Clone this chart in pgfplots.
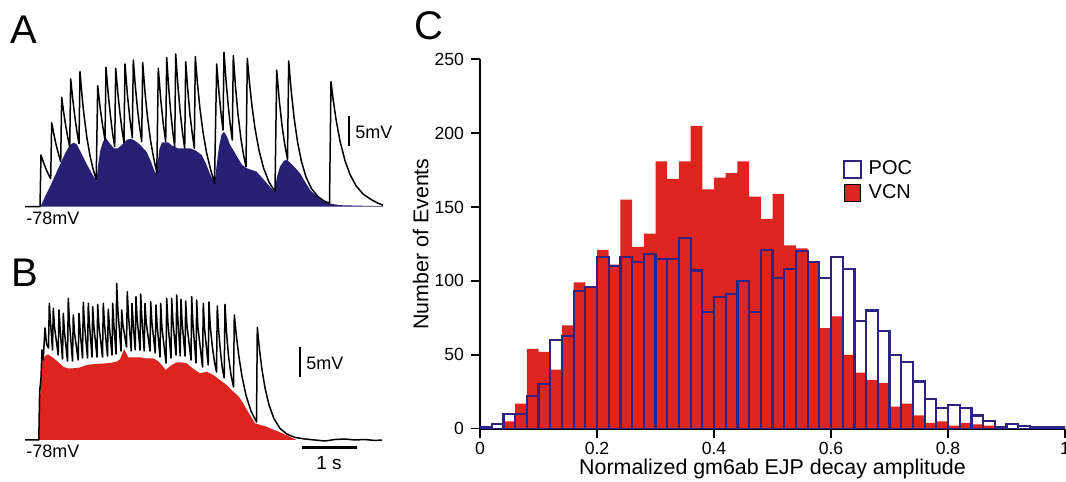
\documentclass[border=0pt]{standalone}
\usepackage{fontspec}
\setmainfont{Liberation Sans}
\usepackage{pgfplots}
\pgfplotsset{compat=1.18}

\definecolor{navyfill}{RGB}{40,30,115}
\definecolor{pocblue}{RGB}{45,35,130}
\definecolor{vcnred}{RGB}{222,36,30}

% traces are digitized in picture pixels: x = time, y = height above -78 mV (6 px = 1 mV, 55 px = 1 s)
\pgfplotsset{trace/.style={x=0.5pt, y=0.5pt, xmin=20, xmax=390, ymin=-5, ymax=165,
  hide axis, clip=false, anchor=south west}}

\begin{document}
\begin{tikzpicture}
\useasboundingbox (0,0) rectangle (533pt,241pt);

% ---------- A ----------
\begin{axis}[trace, at={(10pt,135.15pt)}]
\addplot[fill=navyfill, draw=none] coordinates {
(40.5,0) (45,10) (50,20) (55,31) (60,42) (65,53) (70,62) (74,64) (77,62) (82,52) (87,42)
(92,33) (96.5,25) (98,40) (100,55) (103,65) (106,68.4) (110,63) (114,58.4) (118,58.4)
(122,62) (127,67) (131,68) (135,66) (140,62) (146.7,54.7) (151,45) (155.5,33) (157.8,45)
(159.5,58) (162,64.4) (168,64.4) (172,61) (178,58.4) (184,58.4) (190,58.4) (196,56)
(201.7,51.7) (206,43) (210,33) (214.5,23.4) (216.5,40) (219,60) (221.5,72) (224,75)
(227,70) (230,62) (233.3,56.7) (237,50) (242,42) (246.7,38.4) (251,37) (256.7,35)
(262,29) (268,22) (274.5,15) (277,30) (280,40) (284,46) (287,47) (291,43) (296,38)
(300,33.4) (305,25) (310,17) (313.3,13.4) (320,8) (328.3,3.4) (340,1.5) (360,1)
(383,0.5) (383,0)} \closedcycle;
\addplot[black, line width=0.75pt, line join=round] coordinates {
(25,0) (40,0) (41,51.7) (43.4,44.4) (45.9,38) (48.3,32.6) (50.7,28)
(51.7,84) (54,71.9) (56.2,61.5) (58.5,52.7) (60.7,45)
(61.7,109.4) (63.7,94.1) (65.7,81) (67.7,69.7) (69.7,60)
(70.7,127.7) (72.8,107) (74.9,89.7) (76.9,75.2) (79,63)
(80,135) (82,111) (84,91.5) (87,68.4) (90,51) (93,38) (96.2,26.7)
(97.7,121) (100.1,99.2) (102.6,81.2) (105,66.7)
(106,139.4) (108.2,112.9) (110.4,91.4) (112.5,74) (114.7,60)
(115.7,138.4) (117.8,114) (119.9,94.1) (121.9,77.5) (124,64)
(125,142.7) (127.4,112.2) (129.9,87.6) (132.3,69)
(133.3,146.7) (135.4,119.7) (137.5,97.7) (139.6,79.7) (141.7,65)
(142.7,144) (145,114.6) (147.5,89.6) (150.5,66.5) (153.5,49.4) (156.8,34)
(158.3,138.4) (160.7,107.7) (163.2,83.5) (165.7,65)
(166.7,149) (168.7,118.7) (170.7,94.6) (172.7,75.4) (174.7,60)
(175.7,152.7) (178,120) (180.2,94.4) (182.5,74.2) (184.7,58.4)
(185.7,145) (187.9,115.6) (190,92) (192.2,73.4) (194.3,58.4)
(195.3,150) (197.5,122.8) (200,97.8) (203,74.5) (206.5,54.2) (210.5,37.7) (214.5,23.4)
(216.7,142.7) (218.8,116.3) (220.9,94.2) (223,76.7)
(224,154.4) (226.1,125.2) (228.2,101.5) (230.2,82.3) (232.3,66.7)
(233.3,151) (235.5,119.9) (238,92.4) (241,67.5) (243.5,52) (246,40)
(247.3,148.4) (249.5,123.8) (252,100.6) (255,78.5) (259,56.4) (263.5,38.9) (269,24.6) (275,15)
(276.7,136.7) (279.4,104.9) (282.1,80.5) (284.8,61.8) (287.5,47.4)
(288.7,145.7) (291,118) (294,89.6) (297.5,65) (301.5,45) (306,29.7) (311.5,18) (318,10) (324,5.7) (329.5,3.4)
(331,125) (333,108.4) (336,87.5) (340,65.7) (345,46) (350,32.2) (356,21) (363,12.7) (371,7.2) (378,3.5) (383,1.5)};
\end{axis}

% ---------- B ----------
\begin{axis}[trace, at={(10pt,18.5pt)}]
\addplot[fill=vcnred, draw=none] coordinates {
(39,0) (40,40) (41,65) (42.5,80) (45,84) (48,85.5) (52,83) (57,79) (63.3,73.3) (68,71.5)
(73.3,71.7) (80,72.5) (86.7,75) (95,76) (103.3,76.5) (110,77) (116.7,78.3) (120,80.7)
(122.5,87) (124.3,90.7) (126.5,86) (128.3,82.7) (134,82.5) (140,82.7) (145,81.7)
(153.3,81.7) (158,79) (161.7,75) (165.7,70) (168.5,72.5) (171.7,75) (176.7,77.7)
(181.7,77.5) (186.7,76.7) (191,73) (195,70) (200,66.7) (206.7,68.3) (213.3,65) (220,60)
(226.7,55) (233.3,48.3) (238.3,44) (243.3,36.7) (246.7,30.5) (250,25) (253,20) (255,16.7)
(260,15.2) (266.7,13.3) (273,10.5) (280,7.7) (287,4.5) (296.7,0)} \closedcycle;
\addplot[black, line width=0.75pt, line join=round] coordinates {
(25,0) (38.8,0) (39.6,48) (41,62) (42,90) (43.2,80) (45,112) (46.6,96) (48.5,92)
(49.3,136.7) (50.5,118) (52.5,90)
(53.3,131.7) (54.5,113) (58.2,85)
(59,130) (60.2,110.4) (62.5,81)
(63.3,126.7) (64.5,107.6) (67.5,79)
(68.3,141.7) (69.5,116.6) (72.5,79)
(73.3,125) (74.5,107) (78.2,80)
(79,126.7) (80.2,108.8) (82.5,82)
(83.3,137.7) (84.5,115.4) (87.5,82)
(88.3,136.7) (89.5,115.2) (92,83)
(92.7,133.3) (93.9,113.2) (97,83)
(97.7,135.7) (98.9,114.6) (102.5,83)
(103.3,136.7) (104.5,115.6) (107.5,84)
(108.3,130.7) (109.5,112.4) (112,85)
(112.7,136.7) (113.8,116.4) (116,86)
(116.7,156.7) (117.9,129.6) (121,89)
(121.7,130) (122.9,115.2) (126.5,93)
(127.3,148.3) (128.5,124.6) (131.2,89)
(132,136.7) (133.1,118) (135.2,90)
(136,143.3) (137.1,122) (140,90)
(140.7,146) (141.8,123.2) (144.2,89)
(145,136.7) (146.2,117.6) (150,89)
(150.7,138.3) (151.9,117.8) (155.2,87)
(156,135) (157.2,114.2) (160,83)
(160.7,136.7) (161.9,112.8) (166,77)
(166.7,141.7) (167.9,117.8) (171,82)
(171.7,141.7) (172.9,119) (176,85)
(176.7,145) (177.9,120.6) (180.2,84)
(181,140.7) (182.1,118) (185,84)
(185.7,139) (186.9,115.4) (191,80)
(191.7,143.3) (192.9,116.8) (196,77)
(196.7,140) (197.9,113.2) (202.5,73)
(203.3,136.7) (204.5,112) (208.2,75)
(209,138) (210.3,113) (212.5,92) (214.5,78) (216.5,68)
(217.3,134) (218.6,110) (220.5,88) (222.3,72) (224.2,62)
(225,135.7) (226.5,108) (228.5,84) (231,65) (233.5,53)
(234.3,125) (236.5,103) (239,82.7) (242,63.6) (246,44.8) (251,28.9) (256.5,18)
(257.3,112.7) (259.5,90.2) (262,70.4) (265,52.2) (269,35) (274,21.2) (280,11.6) (287,5.8)
(295,2.6) (305,1) (315,0) (325,-1) (335,0.5) (345,1) (355,0) (365,0.5) (375,-0.5) (382,0)};
\end{axis}

% ---------- C ----------
\begin{axis}[
  at={(240pt,26.65pt)}, anchor=south west,
  scale only axis, width=292.5pt, height=184.7pt,
  xmin=0, xmax=1, ymin=0, ymax=250,
  axis x line*=bottom, axis y line*=left,
  axis line style={line width=1pt},
  tick style={line width=0.8pt, black},
  tick align=outside, major tick length=4.5pt,
  xtick={0,0.2,0.4,0.6,0.8,1}, ytick={0,50,100,150,200,250},
  /pgf/number format/assume math mode=true,
  tick label style={font=\fontsize{8.8}{10}\selectfont},
  xticklabel style={inner sep=0.8pt, yshift=-1.2pt},
  xlabel={Normalized gm6ab EJP decay amplitude},
  ylabel={Number of Events},
  xlabel style={font=\fontsize{10.7}{12}\selectfont, inner sep=0.5pt, at={(axis description cs:0.5,-0.1090)}, anchor=center},
  ylabel style={font=\fontsize{10.7}{12}\selectfont, at={(axis description cs:-0.1014,0.5)}, anchor=center},
  legend style={at={(axis cs:0.62,182)}, anchor=north west, draw=none, fill=none,
    font=\fontsize{10}{12}\selectfont, row sep=2.5pt, inner sep=0pt,
    nodes={inner sep=0.3pt}, /tikz/every odd column/.append style={column sep=3.2pt}},
  legend cell align=left,
  legend image code/.code={\draw[#1] (0pt,-4.1pt) rectangle (8.2pt,4.1pt);},
]
% VCN counts per 0.02 bin
\addplot[ybar interval, fill=vcnred, draw=none, forget plot] coordinates {
(0,0) (0.02,0) (0.04,5) (0.06,17) (0.08,54) (0.10,52) (0.12,40) (0.14,70) (0.16,99) (0.18,96)
(0.20,121) (0.22,111) (0.24,155) (0.26,123) (0.28,132) (0.30,181) (0.32,169) (0.34,181) (0.36,205) (0.38,162)
(0.40,170) (0.42,173) (0.44,181) (0.46,157) (0.48,142) (0.50,159) (0.52,124) (0.54,122) (0.56,113) (0.58,68)
(0.60,76) (0.62,50) (0.64,38) (0.66,33) (0.68,31) (0.70,15) (0.72,17) (0.74,9) (0.76,4) (0.78,5)
(0.80,2) (0.82,4) (0.84,3) (0.86,2) (0.88,0) (0.90,0) (0.92,0) (0.94,0) (0.96,0) (0.98,0) (1,0)};
% POC counts per 0.02 bin
\addplot[ybar interval, draw=pocblue, fill=none, line width=1.1pt, forget plot] coordinates {
(0,1) (0.02,3) (0.04,10) (0.06,10) (0.08,22) (0.10,30) (0.12,60) (0.14,63) (0.16,93) (0.18,96)
(0.20,116) (0.22,110) (0.24,116) (0.26,113) (0.28,118) (0.30,115) (0.32,115) (0.34,129) (0.36,107) (0.38,79)
(0.40,89) (0.42,91) (0.44,100) (0.46,79) (0.48,121) (0.50,102) (0.52,108) (0.54,120) (0.56,113) (0.58,102)
(0.60,116) (0.62,108) (0.64,73) (0.66,80) (0.68,66) (0.70,50) (0.72,45) (0.74,32) (0.76,20) (0.78,14)
(0.80,16) (0.82,14) (0.84,9) (0.86,5) (0.88,1) (0.90,3) (0.92,2) (0.94,1) (0.96,1) (0.98,1) (1,0)};
\addlegendimage{draw=pocblue, line width=1.1pt, fill=white}
\addlegendentry{POC}
\addlegendimage{draw=none, fill=vcnred}
\addlegendentry{VCN}
\end{axis}

% labels and scale bars, in picture pixels (y downwards)
\begin{scope}[x=0.5pt, y=-0.5pt, shift={(0pt,241pt)}]
\node[anchor=base west, inner sep=0pt, font=\fontsize{20}{24}\selectfont] at (10,44) {A};
\node[anchor=base west, inner sep=0pt, font=\fontsize{20}{24}\selectfont] at (11,287) {B};
\node[anchor=base west, inner sep=0pt, font=\fontsize{20}{24}\selectfont] at (414,40) {C};
\draw[line width=1.3pt] (349,116) -- (349,146);
\node[anchor=west, inner sep=0pt, font=\fontsize{9}{11}\selectfont] at (355,132) {5mV};
\draw[line width=1.3pt] (300,347.3) -- (300,377.3);
\node[anchor=west, inner sep=0pt, font=\fontsize{9}{11}\selectfont] at (306,363) {5mV};
\draw[line width=1.3pt] (301.7,447.7) -- (356.7,447.7);
\node[anchor=center, inner sep=0pt, font=\fontsize{9.5}{11}\selectfont] at (329,463) {1 s};
\node[anchor=west, inner sep=0pt, font=\fontsize{9}{11}\selectfont] at (26,218.4) {-78mV};
\node[anchor=west, inner sep=0pt, font=\fontsize{9}{11}\selectfont] at (26,451.7) {-78mV};
\end{scope}
\end{tikzpicture}
\end{document}
